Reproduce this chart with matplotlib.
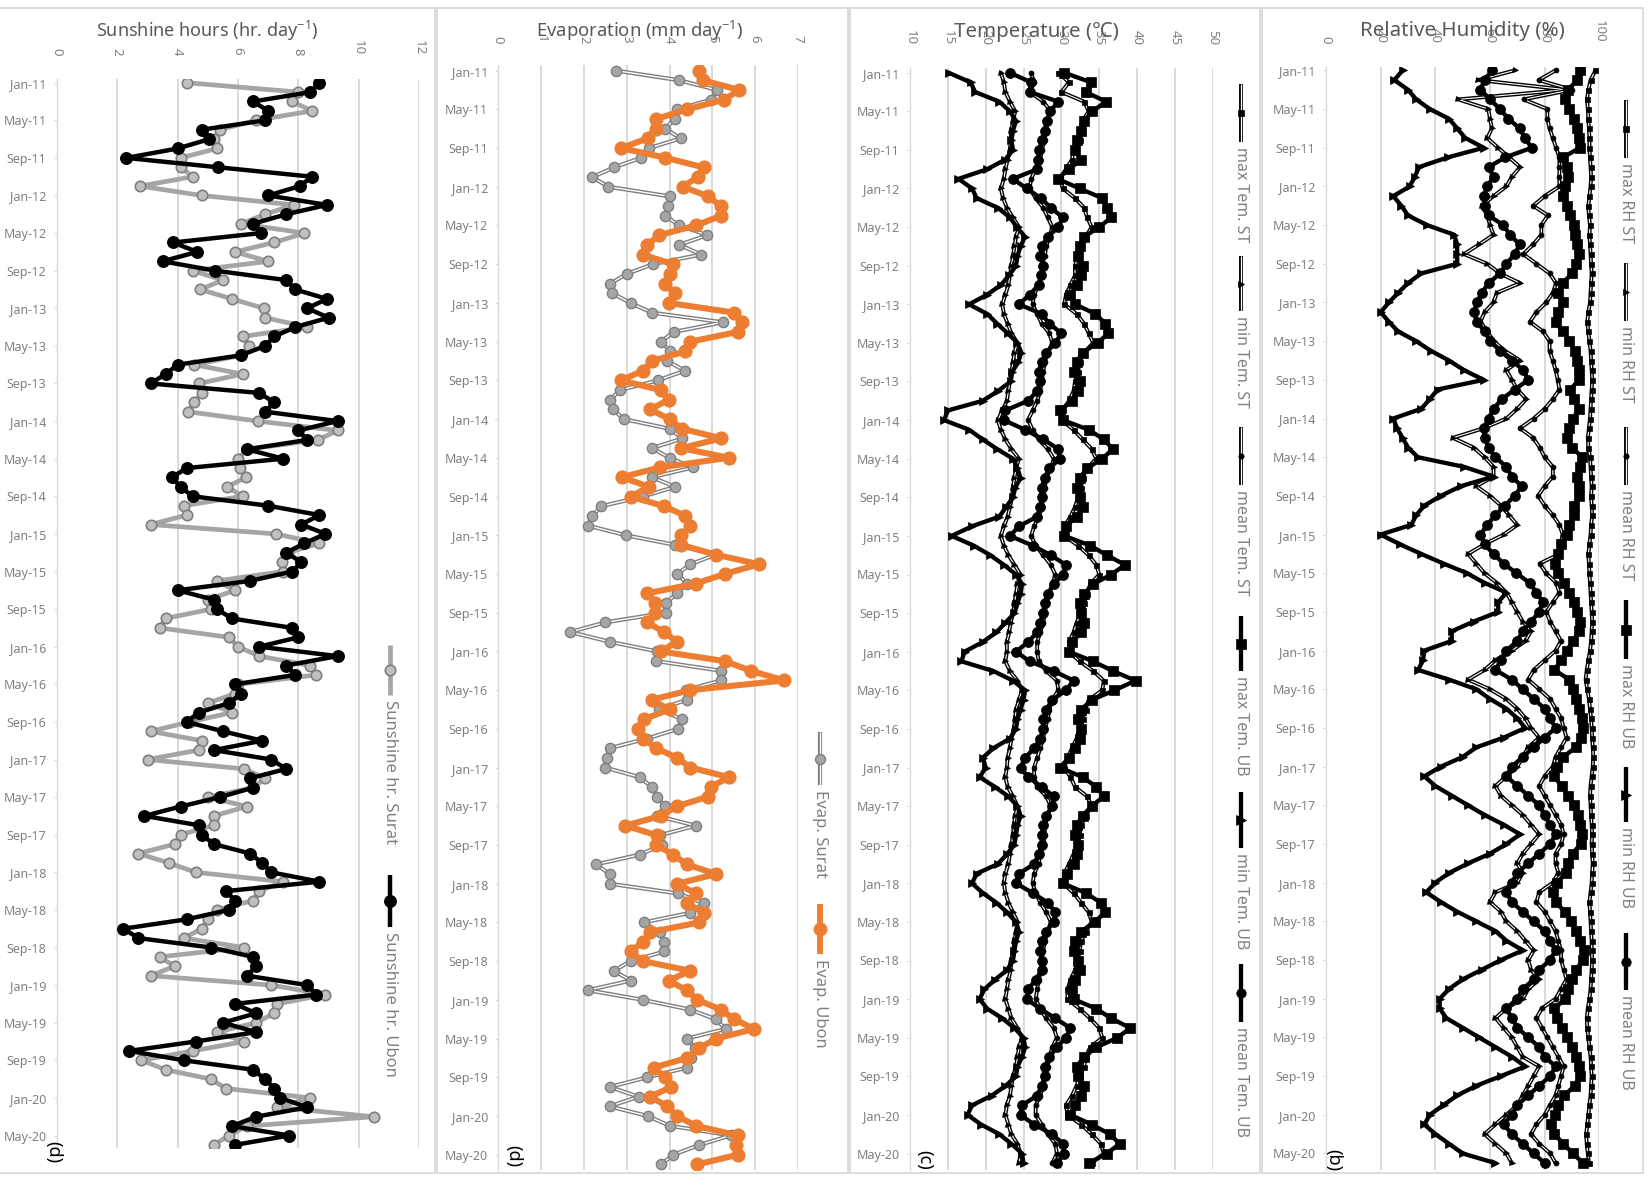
import matplotlib
matplotlib.use("Agg")
import matplotlib.pyplot as plt
from matplotlib.lines import Line2D
from matplotlib.patches import Rectangle
import numpy as np

plt.rcParams['font.family'] = ['Noto Sans', 'DejaVu Sans']
plt.rcParams['mathtext.fontset'] = 'custom'
plt.rcParams['mathtext.rm'] = 'Noto Sans'
plt.rcParams['mathtext.it'] = 'Noto Sans:italic'

W, H = 1652, 1189
GRID = '#d9d9d9'
LABEL = '#808080'
TITLE = '#595959'

# ---------------- data (monthly, Jan-11 .. Jun-20) ----------------
date_labels = ['Jan-11', 'May-11', 'Sep-11', 'Jan-12', 'May-12', 'Sep-12',
               'Jan-13', 'May-13', 'Sep-13', 'Jan-14', 'May-14', 'Sep-14',
               'Jan-15', 'May-15', 'Sep-15', 'Jan-16', 'May-16', 'Sep-16',
               'Jan-17', 'May-17', 'Sep-17', 'Jan-18', 'May-18', 'Sep-18',
               'Jan-19', 'May-19', 'Sep-19', 'Jan-20', 'May-20']

sun_surat = [4.3, 8.0, 7.8, 8.45, 6.6, 5.4, 5.2, 5.3, 4.1, 4.1, 4.5, 2.75,
             4.8, 7.85, 6.9, 6.1, 8.2, 7.2, 5.9, 7.0, 4.5, 5.5, 4.75, 5.8,
             6.85, 6.9, 8.3, 6.15, 6.35, 6.1, 4.55, 6.15, 4.7, 4.8, 4.55, 4.35,
             6.65, 9.3, 8.65, 6.3, 6.0, 6.05, 6.25, 5.65, 6.15, 4.2, 4.3, 3.1,
             7.25, 8.7, 7.65, 7.45, 7.5, 5.3, 5.9, 5.0, 5.1, 3.6, 3.4, 5.7,
             6.0, 6.7, 8.4, 8.6, 6.0, 5.9, 5.0, 5.8, 4.4, 3.1, 4.8, 4.7,
             3.0, 6.2, 6.9, 6.5, 5.0, 6.3, 5.2, 5.2, 4.1, 3.9, 2.7, 3.7,
             4.6, 7.5, 6.7, 6.5, 5.3, 5.0, 4.8, 4.2, 6.2, 3.4, 3.9, 3.1,
             7.1, 8.9, 7.3, 7.2, 6.6, 5.3, 6.2, 4.5, 2.8, 3.6, 5.1, 5.6,
             8.4, 7.3, 10.5, 6.3, 5.7, 5.2]
sun_ubon = [8.7, 8.4, 6.5, 7.0, 6.9, 4.8, 5.05, 4.0, 2.3, 5.35, 8.45, 8.05,
            7.0, 8.95, 7.6, 6.5, 6.75, 3.85, 4.65, 3.5, 5.25, 7.6, 7.9, 8.95,
            8.3, 9.0, 7.9, 7.2, 6.9, 6.1, 4.0, 3.6, 3.1, 6.7, 7.2, 6.9,
            9.3, 8.0, 8.3, 6.3, 7.5, 4.3, 3.8, 4.1, 4.5, 7.0, 8.7, 8.1,
            8.9, 8.2, 7.6, 8.1, 7.8, 6.4, 4.0, 5.2, 5.3, 5.8, 7.8, 8.0,
            6.7, 9.3, 7.6, 7.9, 5.9, 6.1, 5.7, 4.7, 4.3, 5.5, 6.8, 5.2,
            7.1, 7.6, 6.4, 6.5, 5.4, 4.1, 2.9, 4.7, 4.8, 5.2, 6.4, 6.8,
            7.1, 8.7, 5.6, 5.9, 5.7, 4.3, 2.2, 2.7, 5.1, 6.5, 6.6, 6.3,
            8.3, 8.6, 5.9, 6.6, 5.5, 6.6, 4.6, 2.4, 4.2, 6.5, 6.9, 7.2,
            7.4, 8.3, 6.6, 5.8, 7.7, 5.9]

evap_surat = [2.75, 4.23, 5.11, 4.97, 4.18, 4.12, 3.9, 4.26, 3.53, 3.34, 2.7, 2.2,
              2.57, 4.02, 3.97, 3.9, 4.23, 4.88, 4.23, 4.74, 3.61, 3.0, 2.62, 2.66,
              3.09, 3.58, 5.25, 4.1, 3.8, 4.02, 3.95, 4.36, 3.73, 2.84, 2.62, 2.68,
              2.93, 4.0, 4.3, 3.59, 4.0, 4.55, 3.59, 4.13, 3.38, 2.41, 2.2, 2.09,
              2.98, 4.13, 5.08, 4.49, 4.18, 4.41, 4.18, 3.91, 3.91, 2.5, 1.68, 2.6,
              3.71, 3.69, 5.2, 5.2, 4.38, 4.4, 3.75, 4.3, 4.2, 3.48, 2.6, 2.54,
              2.5, 3.3, 3.59, 3.71, 3.89, 3.71, 4.61, 3.77, 3.83, 3.3, 2.29, 2.6,
              2.6, 4.2, 4.8, 4.49, 3.4, 3.77, 3.88, 3.88, 3.09, 2.7, 3.1, 2.09,
              3.38, 4.48, 5.08, 5.31, 4.4, 4.6, 4.5, 4.41, 3.48, 2.6, 3.28, 2.6,
              3.49, 4.0, 5.43, 4.69, 4.09, 3.8]
evap_ubon = [4.7, 4.78, 5.63, 5.28, 4.41, 3.69, 3.69, 3.49, 2.87, 3.9, 4.8, 4.66,
             4.31, 4.91, 5.2, 5.2, 4.62, 3.76, 3.48, 3.37, 4.08, 4.0, 3.9, 4.12,
             3.98, 5.5, 5.7, 5.59, 4.49, 4.37, 3.59, 3.38, 2.87, 3.79, 3.98, 3.55,
             4.0, 4.3, 5.21, 4.27, 5.39, 3.77, 2.89, 3.52, 3.09, 3.87, 4.37, 4.49,
             4.27, 4.27, 5.08, 6.09, 5.29, 4.61, 3.48, 3.67, 3.67, 3.48, 3.87, 4.18,
             3.79, 5.29, 5.9, 6.68, 4.49, 3.58, 4.0, 3.41, 3.27, 3.38, 3.69, 4.18,
             4.49, 5.39, 4.96, 4.9, 4.18, 3.79, 2.97, 3.71, 3.69, 4.09, 4.4, 5.09,
             4.18, 4.61, 4.4, 4.8, 4.69, 3.55, 3.38, 3.09, 3.38, 4.49, 3.98, 4.4,
             4.65, 5.2, 5.51, 5.98, 5.09, 4.69, 4.41, 3.63, 3.9, 4.04, 3.55, 3.95,
             4.18, 4.61, 5.59, 5.55, 5.59, 4.65]

tmax_st = [29.6, 31.0, 30.0, 33.0, 33.6, 32.8, 32.4, 32.4, 31.6, 31.4, 30.6, 29.8,
           30.2, 31.8, 33.0, 33.4, 34.0, 33.2, 32.6, 32.2, 31.8, 31.8, 31.2, 30.6,
           30.4, 32.0, 33.0, 33.6, 34.2, 33.0, 32.4, 32.2, 31.8, 31.6, 31.0, 30.2,
           30.0, 31.6, 32.8, 34.0, 34.6, 33.4, 32.8, 32.6, 32.2, 31.8, 31.2, 30.4,
           30.4, 32.2, 33.6, 34.6, 35.0, 33.8, 33.4, 33.0, 32.6, 32.0, 31.6, 31.0,
           31.0, 32.4, 34.2, 35.6, 35.4, 33.6, 33.2, 32.8, 32.4, 32.0, 31.4, 30.8,
           30.4, 31.2, 31.8, 33.4, 34.0, 33.2, 32.6, 32.4, 32.2, 31.6, 31.0, 30.4,
           30.2, 31.6, 32.6, 33.6, 34.0, 33.2, 32.6, 32.4, 32.2, 31.8, 31.2, 30.8,
           30.8, 32.4, 33.8, 35.0, 35.4, 33.8, 33.2, 33.0, 32.4, 32.0, 31.4, 30.6,
           30.8, 32.6, 34.0, 35.2, 35.6, 34.0]
tmin_st = [22.0, 22.4, 22.6, 23.2, 23.9, 23.6, 23.4, 23.3, 23.2, 22.9, 22.6, 22.4,
           22.0, 22.3, 22.8, 23.6, 24.4, 24.0, 23.8, 23.6, 23.4, 23.2, 23.0, 22.6,
           22.2, 22.4, 22.9, 23.4, 24.2, 23.8, 23.6, 23.4, 23.2, 23.0, 22.8, 22.2,
           21.6, 22.0, 22.6, 23.4, 24.4, 24.0, 23.8, 23.6, 23.5, 23.2, 22.9, 22.4,
           22.0, 22.4, 23.0, 23.8, 24.6, 24.2, 24.0, 23.8, 23.6, 23.3, 23.1, 22.8,
           22.8, 22.6, 23.2, 24.2, 24.8, 24.4, 24.0, 23.9, 23.7, 23.4, 23.2, 22.9,
           22.8, 22.6, 22.9, 23.6, 24.2, 23.9, 23.7, 23.6, 23.4, 23.2, 23.0, 22.6,
           22.4, 22.6, 23.0, 23.6, 24.2, 24.0, 23.8, 23.6, 23.4, 23.3, 23.0, 22.8,
           22.6, 23.0, 23.4, 24.2, 24.8, 24.4, 24.2, 24.0, 23.6, 23.4, 23.2, 22.8,
           22.6, 23.0, 23.4, 24.2, 24.6, 24.4]
tmean_st = [26.0, 26.4, 25.8, 27.6, 28.6, 28.2, 27.9, 27.8, 27.4, 27.2, 26.6, 26.0,
            25.8, 26.6, 27.6, 28.2, 28.8, 28.4, 28.0, 27.8, 27.4, 27.4, 27.0, 26.4,
            26.2, 26.8, 27.4, 28.4, 28.8, 28.2, 27.8, 27.6, 27.4, 27.2, 26.8, 26.2,
            25.6, 26.2, 27.0, 28.2, 29.0, 28.6, 28.0, 27.8, 27.6, 27.4, 27.0, 26.4,
            26.0, 26.6, 27.6, 28.6, 29.2, 28.8, 28.4, 28.0, 27.8, 27.6, 27.2, 26.8,
            26.8, 27.0, 28.0, 29.4, 29.6, 28.8, 28.4, 28.2, 27.8, 27.6, 27.2, 26.8,
            26.4, 26.4, 26.8, 28.0, 28.6, 28.2, 27.8, 27.8, 27.6, 27.2, 27.0, 26.4,
            26.2, 26.6, 27.2, 28.0, 28.6, 28.2, 27.8, 27.6, 27.4, 27.4, 27.0, 26.8,
            26.6, 27.2, 28.0, 29.0, 29.4, 28.8, 28.4, 28.2, 27.8, 27.6, 27.2, 26.6,
            26.6, 27.4, 28.2, 29.2, 29.4, 28.8]
tmax_ub = [30.4, 33.9, 33.2, 35.9, 34.1, 33.0, 32.6, 32.0, 31.8, 32.6, 31.0, 29.5,
           32.4, 35.4, 36.0, 36.6, 35.0, 33.0, 32.4, 32.2, 32.8, 32.6, 32.0, 31.2,
           31.8, 34.5, 35.8, 36.2, 34.8, 32.8, 32.0, 31.6, 32.4, 32.2, 31.4, 29.8,
           30.2, 33.6, 35.6, 36.8, 35.4, 33.4, 32.4, 32.0, 32.4, 32.8, 32.0, 30.6,
           30.4, 33.8, 36.0, 38.4, 36.6, 34.2, 33.0, 32.4, 32.6, 33.0, 32.6, 31.4,
           31.0, 34.2, 36.8, 39.8, 37.0, 34.0, 32.6, 32.2, 32.6, 32.4, 31.8, 31.0,
           29.8, 32.8, 34.6, 35.6, 34.0, 32.8, 32.0, 31.8, 32.2, 32.0, 31.6, 30.8,
           30.2, 33.2, 35.2, 35.8, 34.4, 32.6, 31.8, 31.6, 32.2, 32.4, 31.8, 31.4,
           31.6, 34.6, 36.6, 39.1, 37.4, 34.6, 33.0, 32.0, 32.2, 33.0, 32.6, 31.8,
           31.2, 34.0, 36.4, 37.7, 36.0, 33.6]
tmin_ub = [15.1, 18.0, 18.6, 21.8, 23.2, 24.0, 23.6, 23.4, 23.6, 22.6, 20.2, 16.4,
           18.2, 18.8, 21.6, 23.2, 24.1, 25.2, 24.6, 24.2, 24.0, 23.1, 22.0, 20.2,
           17.8, 20.2, 21.5, 22.9, 24.2, 24.7, 24.3, 23.5, 23.3, 21.6, 19.6, 15.0,
           14.5, 17.8, 19.6, 21.5, 23.6, 24.2, 24.6, 23.9, 23.6, 22.7, 21.8, 18.2,
           15.5, 18.4, 20.6, 22.4, 24.0, 24.8, 24.6, 24.2, 23.8, 22.6, 21.4, 19.6,
           17.2, 16.8, 21.0, 23.6, 25.2, 25.0, 24.6, 24.2, 24.0, 23.2, 21.0, 19.6,
           20.0, 19.2, 21.2, 23.0, 24.2, 24.6, 24.2, 24.0, 23.8, 22.8, 21.6, 18.8,
           18.2, 19.6, 21.4, 22.8, 24.0, 24.4, 24.0, 23.8, 23.6, 22.8, 21.2, 19.8,
           19.2, 20.2, 22.2, 23.8, 25.0, 25.2, 24.8, 24.2, 24.0, 22.6, 20.8, 18.2,
           17.6, 19.4, 21.8, 23.4, 24.8, 25.0]
tmean_ub = [23.2, 26.0, 25.8, 29.6, 28.5, 28.1, 27.8, 27.4, 27.1, 26.9, 26.8, 23.6,
            25.4, 27.3, 28.6, 30.2, 29.6, 28.2, 27.4, 27.2, 27.6, 27.3, 27.0, 25.8,
            24.4, 27.4, 28.4, 30.0, 29.2, 28.0, 27.4, 27.0, 27.2, 26.8, 25.6, 22.6,
            22.4, 25.2, 27.6, 29.6, 29.8, 28.4, 27.8, 27.4, 27.4, 27.2, 26.8, 24.4,
            23.2, 26.2, 28.6, 30.6, 30.2, 29.0, 28.2, 27.8, 27.6, 27.2, 26.8, 25.6,
            24.0, 25.8, 29.0, 31.6, 30.6, 28.8, 28.0, 27.6, 27.6, 27.2, 26.4, 25.2,
            24.6, 25.6, 27.4, 29.0, 28.8, 28.0, 27.6, 27.4, 27.4, 27.0, 26.4, 24.4,
            24.0, 26.2, 28.2, 29.2, 29.0, 28.0, 27.4, 27.2, 27.4, 27.4, 26.6, 25.6,
            25.4, 27.2, 29.2, 31.2, 30.6, 29.4, 28.4, 27.8, 27.8, 27.4, 26.8, 24.8,
            24.6, 26.4, 28.8, 30.2, 30.4, 29.4]

rhmax_st = [98.6, 96.8, 96.0, 95.5, 95.8, 96.0, 96.2, 96.4, 96.4, 96.6, 96.8, 97.0,
            96.8, 96.4, 96.0, 96.2, 96.6, 96.4, 96.6, 96.8, 97.0, 97.2, 97.0, 96.8,
            96.6, 96.0, 95.6, 96.0, 96.4, 96.8, 97.0, 97.2, 97.4, 97.2, 97.0, 96.8,
            96.6, 96.2, 95.8, 96.0, 96.6, 96.8, 97.0, 97.2, 97.0, 97.2, 97.4, 97.0,
            96.8, 96.4, 96.0, 96.2, 96.4, 96.6, 96.8, 97.0, 97.2, 97.4, 97.2, 97.0,
            96.6, 96.0, 95.4, 95.0, 95.6, 96.2, 96.6, 97.0, 97.2, 97.4, 97.6, 97.8,
            97.6, 97.2, 96.8, 96.6, 96.8, 97.0, 97.2, 97.4, 97.2, 97.4, 97.6, 97.4,
            97.2, 96.8, 96.4, 96.6, 96.8, 97.0, 97.2, 97.2, 97.4, 97.2, 97.0, 96.8,
            96.4, 95.8, 95.4, 95.6, 96.0, 96.4, 96.8, 97.0, 97.2, 97.0, 96.8, 96.4,
            96.0, 95.6, 95.2, 95.4, 95.8, 96.2]
rhmin_st = [69.0, 55.7, 88.0, 48.4, 59.4, 60.0, 60.7, 59.0, 63.0, 67.0, 71.0, 68.0,
            66.0, 61.3, 57.0, 59.0, 60.0, 61.3, 56.0, 50.5, 59.0, 63.7, 71.0, 62.5,
            61.3, 58.0, 56.5, 59.0, 61.3, 65.5, 71.0, 66.0, 68.0, 70.0, 73.3, 70.0,
            66.0, 57.7, 46.4, 54.0, 58.0, 61.3, 61.3, 55.0, 60.0, 64.0, 67.0, 70.0,
            65.0, 58.0, 52.0, 55.0, 58.0, 62.5, 66.0, 68.0, 70.0, 72.0, 75.0, 73.0,
            68.0, 62.0, 58.0, 52.0, 60.0, 66.0, 70.0, 73.0, 75.0, 78.0, 74.0, 72.0,
            70.0, 66.0, 62.0, 64.0, 68.0, 72.0, 75.0, 78.0, 75.0, 72.0, 70.0, 72.0,
            70.0, 62.0, 60.0, 64.0, 66.0, 70.0, 73.0, 76.0, 74.0, 75.0, 78.0, 74.0,
            72.0, 66.0, 62.0, 65.0, 68.0, 70.0, 72.0, 78.0, 76.0, 74.0, 72.0, 70.0,
            66.0, 62.0, 58.0, 62.0, 66.0, 68.0]
rhmean_st = [84.0, 77.8, 90.0, 72.3, 81.0, 81.0, 81.8, 83.0, 84.2, 85.4, 85.4, 85.4,
             85.4, 80.0, 75.8, 81.2, 78.8, 78.8, 75.8, 72.2, 77.0, 81.8, 84.2, 83.0,
             80.6, 77.0, 74.6, 79.4, 81.8, 81.8, 83.0, 84.0, 84.8, 85.4, 83.0, 80.0,
             76.0, 71.0, 75.8, 78.2, 80.0, 83.0, 83.0, 80.0, 77.6, 80.0, 83.0, 85.4,
             86.6, 85.8, 85.4, 78.2, 80.6, 84.2, 85.4, 83.0, 80.6, 82.0, 84.0, 86.0,
             84.0, 80.0, 76.0, 74.0, 78.0, 82.0, 84.0, 86.0, 87.0, 88.0, 86.0, 84.0,
             83.0, 80.0, 78.0, 80.0, 82.0, 84.0, 86.0, 87.0, 86.0, 84.0, 84.0, 85.0,
             83.0, 78.0, 77.0, 80.0, 82.0, 84.0, 85.0, 86.0, 86.0, 87.0, 88.0, 86.0,
             84.0, 79.0, 77.0, 79.0, 81.0, 83.0, 85.0, 87.0, 86.0, 85.0, 84.0, 82.0,
             80.0, 77.0, 75.0, 78.0, 82.0, 84.0]
rhmax_ub = [93.0, 92.0, 88.5, 87.6, 89.0, 90.6, 92.0, 92.5, 93.0, 86.6, 88.0, 88.5,
            87.6, 86.6, 88.2, 89.4, 90.6, 91.0, 92.0, 92.4, 91.6, 90.0, 86.6, 85.0,
            86.6, 84.8, 84.0, 86.6, 89.0, 91.0, 92.0, 92.4, 92.6, 89.4, 90.6, 92.5,
            90.5, 89.0, 88.0, 90.0, 93.7, 92.8, 92.0, 92.5, 92.6, 90.6, 90.6, 89.0,
            88.0, 86.0, 85.0, 83.8, 85.0, 87.0, 89.0, 90.6, 92.0, 93.0, 92.4, 90.5,
            88.0, 86.0, 83.6, 89.0, 90.5, 91.5, 92.5, 93.5, 94.0, 93.2, 91.4, 86.8,
            84.6, 83.4, 86.2, 88.4, 90.6, 92.2, 93.0, 93.6, 93.2, 90.2, 88.6, 87.8,
            84.6, 83.2, 84.0, 87.4, 89.8, 91.6, 93.0, 94.4, 94.0, 91.6, 90.0, 88.6,
            87.6, 83.6, 84.6, 86.2, 88.2, 90.0, 91.4, 92.6, 92.8, 91.0, 87.2, 85.0,
            83.8, 82.2, 83.6, 86.8, 90.4, 94.0]
rhmin_ub = [28.0, 25.0, 30.0, 33.0, 38.0, 45.0, 48.0, 51.0, 57.7, 44.5, 34.0, 32.5,
            30.6, 24.6, 27.6, 30.0, 37.0, 46.9, 48.0, 48.0, 48.0, 34.8, 30.0, 26.4,
            23.0, 20.0, 23.0, 26.4, 33.0, 38.4, 45.0, 50.5, 57.7, 40.8, 38.0, 34.8,
            24.6, 26.0, 28.0, 30.0, 33.6, 50.5, 61.3, 49.3, 42.0, 36.0, 33.0, 31.2,
            20.0, 27.0, 34.8, 43.0, 51.6, 58.0, 66.0, 63.0, 63.0, 54.0, 46.0, 46.0,
            36.0, 35.5, 33.7, 45.0, 55.0, 60.0, 66.0, 70.0, 72.9, 65.0, 55.0, 50.0,
            42.0, 36.0, 40.0, 46.0, 52.0, 58.0, 65.0, 71.0, 66.0, 60.0, 52.0, 45.0,
            40.0, 36.7, 42.0, 48.0, 55.0, 62.0, 66.0, 72.0, 64.0, 57.0, 50.0, 45.0,
            41.6, 41.6, 44.0, 50.0, 56.0, 62.0, 68.0, 72.9, 64.0, 55.0, 48.0, 43.0,
            38.0, 36.0, 40.0, 45.0, 50.0, 62.0]
rhmean_ub = [60.7, 58.0, 56.5, 60.0, 63.7, 66.7, 70.9, 72.8, 75.3, 65.5, 59.5, 61.3,
             59.0, 57.7, 58.0, 59.5, 64.9, 67.3, 70.9, 69.1, 66.0, 63.7, 59.5, 57.0,
             55.3, 54.1, 55.3, 58.0, 60.1, 63.7, 68.0, 72.2, 74.0, 69.1, 64.3, 61.3,
             59.5, 57.7, 58.0, 59.5, 62.0, 66.0, 68.0, 71.6, 69.0, 65.5, 62.0, 59.0,
             56.5, 58.0, 61.3, 65.0, 69.7, 74.5, 77.0, 79.4, 78.0, 75.0, 72.0, 70.0,
             66.0, 64.0, 62.0, 68.0, 72.0, 76.0, 80.0, 82.0, 84.0, 80.0, 76.0, 72.0,
             68.0, 66.0, 70.0, 74.0, 78.0, 80.0, 82.0, 84.0, 82.0, 78.0, 74.0, 70.0,
             68.0, 66.0, 68.0, 72.0, 76.0, 80.0, 82.0, 84.0, 82.0, 78.0, 76.0, 72.0,
             70.0, 66.0, 68.0, 70.0, 74.0, 78.0, 80.0, 84.0, 82.0, 78.0, 74.0, 70.0,
             68.0, 65.0, 68.0, 72.0, 76.0, 80.0]

months = np.arange(len(sun_ubon))

fig = plt.figure(figsize=(W / 100, H / 100), dpi=100)


def fx(x):
    return x / W


def fy(y):
    return 1 - y / H


def make_panel(x0, x1, vmin, vmax, vstep, y_first, step, top, bottom,
               tick_bottom):
    ax = fig.add_axes([fx(x0), fy(bottom), (x1 - x0) / W, (bottom - top) / H])
    ax.set_xlim(vmin, vmax)
    ax.set_ylim((bottom - y_first) / step, (top - y_first) / step)
    ax.patch.set_alpha(0)
    for s in ['top', 'right', 'bottom']:
        ax.spines[s].set_visible(False)
    ax.spines['left'].set_color(GRID)
    ax.spines['left'].set_linewidth(1.0)
    ax.set_xticks([])
    ax.set_yticks(range(0, 113, 4))
    ax.set_yticklabels(date_labels)
    ax.tick_params(axis='y', length=2.5, width=0.8, color=GRID,
                   labelcolor=LABEL, labelsize=9, pad=5)
    vals = np.arange(vmin, vmax + 0.01, vstep)
    for v in vals[1:]:
        ax.axvline(v, color=GRID, lw=1.4, zorder=0)
    # value labels sit above the plot, turned like the rest of the chart
    for v in vals:
        xp = x0 + (v - vmin) / (vmax - vmin) * (x1 - x0)
        fig.text(fx(xp), fy(tick_bottom), '{0}'.format(int(v)), rotation=-90,
                 ha='center', va='bottom', color=LABEL, fontsize=9.5)
    return ax


def double_line(ax, vals, outer, lw_out, lw_in, marker, ms, mfc, mec, mew, z):
    ax.plot(vals, months, color=outer, lw=lw_out, zorder=z,
            solid_joinstyle='round', solid_capstyle='round')
    ax.plot(vals, months, color='white', lw=lw_in, zorder=z + 0.1,
            solid_joinstyle='round', solid_capstyle='round')
    ax.plot(vals, months, ls='none', marker=marker, ms=ms, mfc=mfc, mec=mec,
            mew=mew, zorder=z + 0.2)


def solid_line(ax, vals, color, lw, marker, ms, mfc, mec, mew, z):
    ax.plot(vals, months, color=color, lw=lw, marker=marker, ms=ms, mfc=mfc,
            mec=mec, mew=mew, zorder=z, solid_joinstyle='round',
            solid_capstyle='round')


def legend_entry(x, y0, y1, text, style, size=12):
    kind, color, lw, marker, ms, mfc, mec, mew = style
    xs = [fx(x), fx(x)]
    ys = [fy(y0), fy(y1)]
    fig.add_artist(Line2D(xs, ys, color=color, lw=lw, transform=fig.transFigure,
                          solid_capstyle='butt'))
    if kind == 'double':
        fig.add_artist(Line2D(xs, ys, color='white', lw=lw * 0.32,
                              transform=fig.transFigure, solid_capstyle='butt'))
    fig.add_artist(Line2D([fx(x)], [fy((y0 + y1) / 2)], ls='none', marker=marker,
                          ms=ms, mfc=mfc, mec=mec, mew=mew,
                          transform=fig.transFigure))
    fig.text(fx(x), fy(y1 + 5), text, rotation=-90, ha='center', va='top',
             color=LABEL, fontsize=size)


# ---------------- panel frames ----------------
for (a, b) in [(-2, 435), (437, 848), (850, 1260), (1262, 1643)]:
    fig.add_artist(Rectangle((fx(a), fy(1173)), (b - a) / W, (1173 - 8) / H,
                             transform=fig.transFigure, fill=False,
                             ec=GRID, lw=1.3))

# ---------------- panel (d) sunshine ----------------
ax1 = make_panel(57, 419, 0, 12, 2, 82.7, 9.40, 79.3, 1148, 55)
st_sur = ('solid', '#a5a5a5', 3.4, 'o', 7.5, '#bfbfbf', '#7f7f7f', 1.2)
st_ubn = ('solid', 'black', 3.2, 'o', 8.3, 'black', 'black', 1.0)
solid_line(ax1, sun_surat, '#a5a5a5', 3.4, 'o', 7.5, '#bfbfbf', '#7f7f7f', 1.2, 3)
solid_line(ax1, sun_ubon, 'black', 3.2, 'o', 8.3, 'black', 'black', 1.0, 4)
fig.text(fx(207), fy(31), r'Sunshine hours (hr. day$^{-1}$)', ha='center',
         va='center', color=TITLE, fontsize=13)
legend_entry(390, 645, 695, 'Sunshine hr. Surat', st_sur)
legend_entry(390, 875, 927, 'Sunshine hr. Ubon', st_ubn)
fig.text(fx(53), fy(1152), '(d)', rotation=-90, ha='center', va='center',
         color='black', fontsize=13)

# ---------------- panel (d) evaporation ----------------
ax2 = make_panel(498.3, 797.9, 0, 7, 1, 70.6, 9.68, 65, 1170, 43)
double_line(ax2, evap_surat, '#7f7f7f', 3.0, 1.0, 'o', 7.4, '#a5a5a5',
            '#7f7f7f', 1.0, 3)
solid_line(ax2, evap_ubon, '#ed7d31', 4.4, 'o', 9.2, '#ed7d31', '#ed7d31', 1.0, 4)
fig.text(fx(640), fy(31), r'Evaporation (mm day$^{-1}$)', ha='center',
         va='center', color=TITLE, fontsize=13.3)
legend_entry(820, 732, 785, 'Evap. Surat',
             ('double', '#7f7f7f', 3.0, 'o', 7.2, '#a5a5a5', '#7f7f7f', 1.0))
legend_entry(820, 904, 954, 'Evap. Ubon',
             ('solid', '#ed7d31', 4.2, 'o', 9.0, '#ed7d31', '#ed7d31', 1.0))
fig.text(fx(513), fy(1156), '(d)', rotation=-90, ha='center', va='center',
         color='black', fontsize=13)

# ---------------- panel (c) temperature ----------------
ax3 = make_panel(910, 1212.8, 10, 50, 5, 72.7, 9.65, 68.3, 1170, 45)
thin = [(tmax_st, 's'), (tmin_st, '>'), (tmean_st, 'o')]
for i, (vals, mk) in enumerate(thin):
    double_line(ax3, vals, 'black', 2.8, 0.8, mk, 3.6, 'black', 'black', 0.5, 2 + i)
thick = [(tmax_ub, 's', 6.8), (tmin_ub, '>', 6.4), (tmean_ub, 'o', 7.2)]
for i, (vals, mk, ms) in enumerate(thick):
    solid_line(ax3, vals, 'black', 3.1, mk, ms, 'black', 'black', 0.5, 6 + i)
fig.text(fx(1036), fy(32), 'Temperature (℃)', ha='center', va='center',
         color=TITLE, fontsize=14.8)
tem_leg = [(84, 142, 'max Tem. ST', 's', 'double'),
           (256, 311, 'min Tem. ST', '>', 'double'),
           (427, 485, 'mean Tem. ST', 'o', 'double'),
           (616, 671, 'max Tem. UB', 's', 'solid'),
           (792, 848, 'min Tem. UB', '>', 'solid'),
           (964, 1022, 'mean Tem. UB', 'o', 'solid')]
for y0, y1, txt, mk, kind in tem_leg:
    if kind == 'double':
        sty = ('double', 'black', 2.8, mk, 3.8, 'black', 'black', 0.5)
    else:
        sty = ('solid', 'black', 3.1, mk, 6.8, 'black', 'black', 0.5)
    legend_entry(1241, y0, y1, txt, sty, size=11.5)
fig.text(fx(924), fy(1160), '(c)', rotation=-90, ha='center', va='center',
         color='black', fontsize=13)

# ---------------- panel (b) relative humidity ----------------
ax4 = make_panel(1326, 1599.3, 0, 100, 20, 70.4, 9.67, 66.7, 1170, 43)
thin = [(rhmax_st, 's'), (rhmin_st, '>'), (rhmean_st, 'o')]
for i, (vals, mk) in enumerate(thin):
    double_line(ax4, vals, 'black', 2.8, 0.8, mk, 3.6, 'black', 'black', 0.5, 2 + i)
thick = [(rhmax_ub, 's', 6.8), (rhmin_ub, '>', 6.4), (rhmean_ub, 'o', 7.2)]
for i, (vals, mk, ms) in enumerate(thick):
    solid_line(ax4, vals, 'black', 3.1, mk, ms, 'black', 'black', 0.5, 6 + i)
fig.text(fx(1462), fy(31), 'Relative Humidity (%)', ha='center', va='center',
         color=TITLE, fontsize=14.8)
rh_leg = [(100, 158, 'max RH ST', 's', 'double'),
          (263, 321, 'min RH ST', '>', 'double'),
          (427, 485, 'mean RH ST', 'o', 'double'),
          (600, 659, 'max RH UB', 's', 'solid'),
          (767, 822, 'min RH UB', '>', 'solid'),
          (933, 990, 'mean RH UB', 'o', 'solid')]
for y0, y1, txt, mk, kind in rh_leg:
    if kind == 'double':
        sty = ('double', 'black', 2.8, mk, 3.8, 'black', 'black', 0.5)
    else:
        sty = ('solid', 'black', 3.1, mk, 6.8, 'black', 'black', 0.5)
    legend_entry(1626, y0, y1, txt, sty, size=11.5)
fig.text(fx(1333), fy(1160), '(b)', rotation=-90, ha='center', va='center',
         color='black', fontsize=13)

fig.savefig('out.png', dpi=100)
